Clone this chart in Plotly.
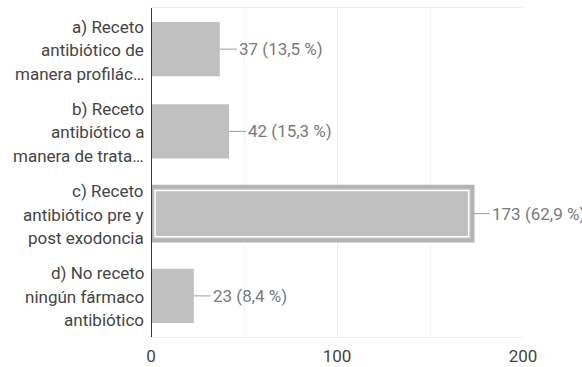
import plotly.graph_objects as go

# Survey answers (top to bottom), counts and percentages
categories = ["a", "b", "c", "d"]
label_lines = [
    ["a) Receto", "antibiótico de", "manera profilác…"],
    ["b) Receto", "antibiótico a", "manera de trata…"],
    ["c) Receto", "antibiótico pre y", "post exodoncia"],
    ["d) No receto", "ningún fármaco", "antibiótico"],
]
counts = [37, 42, 173, 23]
percents = ["13,5", "15,3", "62,9", "8,4"]
highlighted = "c"
x_ticks = [0, 100, 200]

bar_color = "#c0c0c0"
ring_color = "#b3b3b3"
font = "Roboto"
bar_width = 0.66

fig = go.Figure()

fig.add_trace(go.Bar(
    y=categories, x=counts, orientation="h", width=bar_width,
    marker=dict(color=bar_color,
                line=dict(color=[ring_color if c == highlighted else bar_color for c in categories],
                          width=[3.5 if c == highlighted else 0 for c in categories])),
    hoverinfo="skip",
))
# thin white inner ring on the selected answer
hi = categories.index(highlighted)
inset = 2.2  # axis units
fig.add_trace(go.Bar(
    y=[highlighted], x=[counts[hi] - 2 * inset], base=[inset], orientation="h",
    width=bar_width - 0.095,
    marker=dict(color="rgba(0,0,0,0)", line=dict(color="white", width=1.5)),
    hoverinfo="skip",
))

annotations = []
shapes = []
for cat, lines in zip(categories, label_lines):
    for i, line in enumerate(lines):
        annotations.append(dict(
            x=0, y=cat, xref="x", yref="y", text=line, showarrow=False,
            xanchor="right", yanchor="middle", xshift=-5, yshift=(1 - i) * 23.5 - 1,
            font=dict(family=font, size=17, color="#444444"),
        ))

for cat, n, p in zip(categories, counts, percents):
    shapes.append(dict(
        type="line", xref="x", yref="y", xsizemode="pixel", xanchor=n,
        x0=0, x1=17, y0=cat, y1=cat, line=dict(color="#9e9e9e", width=1),
    ))
    annotations.append(dict(
        x=n, y=cat, xref="x", yref="y", text=f"{n} ({p} %)", showarrow=False,
        xanchor="left", yanchor="middle", xshift=17,
        font=dict(family=font, size=17, color="#7a7a7a"),
    ))

fig.update_layout(
    width=582, height=367,
    margin=dict(l=151, r=59, t=8, b=30, autoexpand=False),
    paper_bgcolor="white", plot_bgcolor="white",
    barmode="overlay", showlegend=False,
    annotations=annotations, shapes=shapes,
    xaxis=dict(range=[0, 200], tickvals=x_ticks, automargin=False,
               showgrid=True, gridcolor="#eeeeee", gridwidth=1,
               zeroline=False, showline=True, linecolor="#eeeeee", mirror=True,
               tickfont=dict(family=font, size=17, color="#444444"),
               ticks="", ticklabelstandoff=4,
               minor=dict(dtick=50, showgrid=True, gridcolor="#f2f2f2")),
    yaxis=dict(categoryorder="array", categoryarray=categories[::-1],
               showticklabels=False, showgrid=False, zeroline=False,
               showline=False, range=[-0.5, 3.5], automargin=False),
)
# dark baseline at zero
fig.add_shape(type="line", xref="x", yref="paper", x0=0, x1=0, y0=0, y1=1,
              line=dict(color="#333333", width=2))

fig.write_html("out.html")
